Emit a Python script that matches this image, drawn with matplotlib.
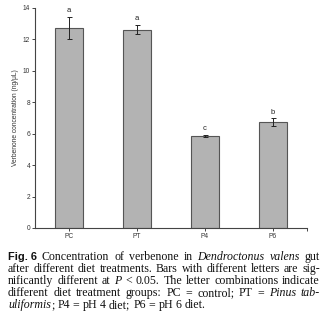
import matplotlib
matplotlib.use("Agg")
import matplotlib.pyplot as plt
from matplotlib.font_manager import FontProperties
import numpy as np

# Verbenone concentration per diet treatment
groups = ["PC", "PT", "P4", "P6"]
means = [12.75, 12.63, 5.86, 6.73]
errors = [0.70, 0.30, 0.08, 0.25]
letters = ["a", "a", "c", "b"]
yticks = [0, 2, 4, 6, 8, 10, 12, 14]
ylabel = "Verbenone concentration (ng/\u03bcL)"

W, H = 331, 326
fig = plt.figure(figsize=(W / 100, H / 100), dpi=100)
fig.patch.set_facecolor("white")

ax = fig.add_axes([35 / W, 1 - 228 / H, (307 - 35) / W, (228 - 8) / H])
x = np.arange(len(groups))
ax.bar(x, means, width=0.41, color="#b3b3b3", edgecolor="#555555", linewidth=0.8, zorder=2)
ax.errorbar(x, means, yerr=errors, fmt="none", ecolor="#222222",
            elinewidth=0.7, capsize=1.8, capthick=0.7, zorder=3)
for xi, m, e, lab in zip(x, means, errors, letters):
    ax.text(xi, m + e + 0.15, lab, ha="center", va="bottom",
            fontsize=5.5, family="Liberation Sans", color="#222222")

ax.set_xlim(-0.5, 3.5)
ax.set_ylim(0, 14)
ax.set_xticks(x)
ax.set_xticklabels(groups)
ax.set_xticks([3.5], minor=True)
ax.set_yticks(yticks)
ax.set_yticklabels([str(v) for v in yticks])
for s in ("top", "right"):
    ax.spines[s].set_visible(False)
for s in ("left", "bottom"):
    ax.spines[s].set_color("#444444")
    ax.spines[s].set_linewidth(0.8)
ax.tick_params(axis="both", which="both", length=2, width=0.7, color="#444444",
               labelsize=4.8, pad=1.5, labelcolor="#333333")
for lbl in ax.get_xticklabels() + ax.get_yticklabels():
    lbl.set_family("Liberation Sans")
ax.set_ylabel(ylabel, fontsize=4.8, family="Liberation Sans", color="#333333", labelpad=3)

# Figure caption, set as justified lines
FS = 8.6
serif = FontProperties(family="Liberation Serif", size=FS)
serif_it = FontProperties(family="Liberation Serif", style="italic", size=FS)
sans_b = FontProperties(family="Liberation Sans", weight="bold", size=FS * 0.92)
styles = {"r": serif, "i": serif_it, "b": sans_b}

caption = [
    [[("Fig. 6", "b")], [("Concentration", "r")], [("of", "r")], [("verbenone", "r")],
     [("in", "r")], [("Dendroctonus", "i")], [("valens", "i")], [("gut", "r")]],
    [[(w, "r")] for w in "after different diet treatments. Bars with different letters are sig-".split()],
    [[(w, "r")] for w in "nificantly different at".split()] + [[("P", "i")], [("<", "r")]]
    + [[(w, "r")] for w in "0.05. The letter combinations indicate".split()],
    [[(w, "r")] for w in "different diet treatment groups: PC = control; PT =".split()]
    + [[("Pinus", "i")], [("tab-", "i")]],
    [[("uliformis", "i"), (";", "r")]] + [[(w, "r")] for w in "P4 = pH 4 diet; P6 = pH 6 diet.".split()],
]

renderer = fig.canvas.get_renderer()


def width_of(s, fp):
    t = fig.text(0, 0, s, fontproperties=fp)
    w = t.get_window_extent(renderer).width
    t.remove()
    return w


space_w = width_of("a a", serif) - width_of("aa", serif)
left_px, right_px = 8, 320
baselines = [260, 272, 284, 296, 308]

for li, (words, base) in enumerate(zip(caption, baselines)):
    wlens = [sum(width_of(s, styles[st]) for s, st in word) for word in words]
    total = sum(wlens)
    if li < len(caption) - 1:
        gap = (right_px - left_px - total) / (len(words) - 1)
    else:
        gap = space_w
    cur = left_px
    for word, wl in zip(words, wlens):
        xx = cur
        for s, st in word:
            fig.text(xx / W, 1 - base / H, s, fontproperties=styles[st],
                     va="baseline", ha="left", color="#111111")
            xx += width_of(s, styles[st])
        cur += wl + gap

fig.savefig("out.png", dpi=100, facecolor="white")
